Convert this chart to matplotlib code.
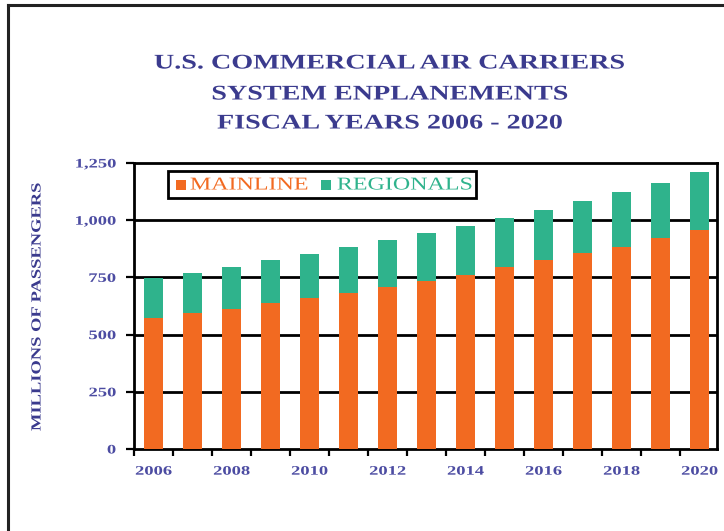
import matplotlib.pyplot as plt
from matplotlib.lines import Line2D
from matplotlib.patches import Rectangle
from matplotlib.patheffects import AbstractPathEffect
from matplotlib.transforms import Affine2D
import numpy as np

years = list(range(2006, 2021))
mainline = [571, 593, 612, 636, 659, 680, 709, 736, 760, 794, 826, 855, 884, 921, 957]
regionals = [177, 177, 185, 189, 195, 201, 204, 209, 213, 217, 219, 230, 241, 243, 255]
year_labels = [str(y) if y % 2 == 0 else "" for y in years]
y_ticks = [0, 250, 500, 750, 1000, 1250]
series_names = ["MAINLINE", "REGIONALS"]

ORANGE = "#F26A21"
GREEN = "#2FB38C"
NAVY = "#3B3B8E"
TICK_BLUE = "#4C4CA2"

W, H = 724, 531


class Stretch(AbstractPathEffect):
    """Widen glyphs along the text direction, keeping one anchor point fixed."""

    def __init__(self, sx, anchor="center"):
        super().__init__()
        self.sx = sx
        self.anchor = anchor

    def draw_path(self, renderer, gc, tpath, affine, rgbFace=None):
        ext = tpath.get_extents()
        if self.anchor == "center":
            a = (ext.x0 + ext.x1) / 2
        elif self.anchor == "right":
            a = ext.x1
        else:
            a = ext.x0
        t = Affine2D().translate(-a, 0).scale(self.sx, 1).translate(a, 0) + affine
        renderer.draw_path(gc, tpath, t, rgbFace)


def fx(px):
    return px / W


def fy(py):
    return 1 - py / H


plt.rcParams['font.family'] = ['Liberation Serif', 'DejaVu Serif']

fig = plt.figure(figsize=(W / 100, H / 100), dpi=100)
fig.patch.set_facecolor("white")

# outer frame (left and top edges)
fig.add_artist(Line2D([fx(8), fx(8)], [0, fy(5)], transform=fig.transFigure,
                      color="#222222", lw=2.2))
fig.add_artist(Line2D([fx(8), 1], [fy(5), fy(5)], transform=fig.transFigure,
                      color="#222222", lw=2.2))

ax = fig.add_axes([fx(134), fy(449), fx(717 - 134), (449 - 163) / H])

x = np.arange(len(years))
ax.bar(x, mainline, width=0.5, color=ORANGE, zorder=3)
ax.bar(x, regionals, width=0.5, bottom=mainline, color=GREEN, zorder=3)

ax.set_xlim(-0.5, len(years) - 0.55)
ax.set_ylim(0, 1250)

for v in y_ticks[1:-1]:
    ax.axhline(v, color="black", lw=2.0, zorder=1)

for s in ax.spines.values():
    s.set_linewidth(2.0)
    s.set_color("black")

ax.set_yticks(y_ticks)
ax.set_yticklabels([f"{v:,}" for v in y_ticks], fontsize=9.4, fontweight="bold", color=TICK_BLUE)
ax.tick_params(axis="y", direction="out", length=6, width=1.6, pad=7)
for t in ax.get_yticklabels():
    t.set_path_effects([Stretch(1.42, "right")])

ax.set_xticks(x)
ax.set_xticklabels(year_labels, fontsize=9.4, fontweight="bold", color=TICK_BLUE)
ax.tick_params(axis="x", which="major", length=0, pad=12)
ax.set_xticks(np.arange(-0.5, len(years) - 0.5, 1.0), minor=True)
ax.tick_params(axis="x", which="minor", direction="out", length=5, width=1.6)
for t in ax.get_xticklabels():
    t.set_path_effects([Stretch(1.42, "center")])

fig.text(fx(37), fy(307), "MILLIONS OF PASSENGERS", rotation=90,
         ha="center", va="center", fontsize=10, fontweight="bold", color=NAVY,
         path_effects=[Stretch(1.33, "center")])

for i, line in enumerate(["U.S. COMMERCIAL AIR CARRIERS", "SYSTEM ENPLANEMENTS",
                          "FISCAL YEARS 2006 - 2020"]):
    fig.text(fx(390), fy([63.5, 94.5, 123.5][i]), line, ha="center", va="center",
             fontsize=15, fontweight="bold", color=NAVY,
             path_effects=[Stretch(1.35, "center")])

# legend box
fig.add_artist(Rectangle((fx(168), fy(198)), fx(476 - 168), (198 - 171) / H,
                         transform=fig.transFigure, facecolor="white",
                         edgecolor="black", lw=2.0, zorder=5))
for name, color, sq_x, txt_x in zip(series_names, [ORANGE, GREEN], [176, 321], [190, 337]):
    fig.add_artist(Rectangle((fx(sq_x), fy(190)), fx(10), 10 / H,
                             transform=fig.transFigure, facecolor=color,
                             edgecolor="none", zorder=6))
    fig.text(fx(txt_x), fy(185), name, ha="left", va="center", fontsize=13,
             color=color, zorder=6, path_effects=[Stretch(1.33, "left")])

fig.savefig("out.png", dpi=100, facecolor="white")
